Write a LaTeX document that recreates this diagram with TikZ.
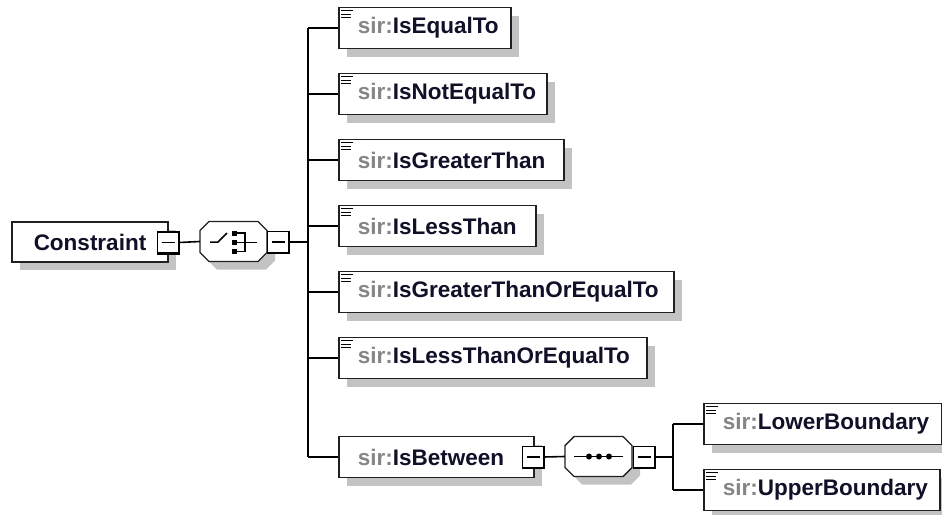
\documentclass[tikz,border=0pt]{standalone}
\usepackage{fontspec}
\setmainfont{Liberation Sans}
\usepackage{tikz}
\usetikzlibrary{shadows}
\definecolor{nsgrey}{HTML}{858585}
\definecolor{namecol}{HTML}{101028}
\definecolor{shadowgrey}{HTML}{C3C3C3}
\definecolor{framecol}{HTML}{202020}
\newcommand{\sir}{\textcolor{nsgrey}{sir:}}

\begin{document}
\begin{tikzpicture}[x=1pt, y=-1pt,
        font=\fontsize{22.5}{26}\selectfont\bfseries,
        % Define a flat grey shadow for the boxes
        boxshadow/.style={general shadow={fill=shadowgrey, shadow xshift=8pt, shadow yshift=-8pt}},
        elem/.style={draw=framecol, line width=1.6pt, fill=white, boxshadow, anchor=west,
            minimum height=41pt, inner xsep=19pt, inner ysep=0pt, align=left, text=namecol},
        root/.style={draw=framecol, line width=1.3pt, fill=white, boxshadow,
            minimum width=156pt, minimum height=40pt, text=namecol},
        compositor/.style={minimum width=67pt, minimum height=40pt, inner sep=0pt},
        minusbox/.style={draw=black, line width=1.2pt, fill=white, minimum size=21pt, inner sep=0pt,
            path picture={\draw[line width=1.2pt] ([xshift=4pt]path picture bounding box.west)
                -- ([xshift=-4pt]path picture bounding box.east);}},
        link/.style={line width=1.6pt, draw=black}]

        \useasboundingbox (0,0) rectangle (942,514);

        % 1. The root element and its choice compositor
        \node[root] (root) at (90,242) {Constraint};
        \node[compositor] (chc) at (233.5,241.5) {};

        % 2. The seven choices
        \node[elem, minimum width=172pt, text width=134pt] (eq) at (338,28) {\sir IsEqualTo};
        \node[elem, minimum width=208pt, text width=170pt] (neq) at (338,94) {\sir IsNotEqualTo};
        \node[elem, minimum width=225pt, text width=187pt] (gt) at (338,160) {\sir IsGreaterThan};
        \node[elem, minimum width=197pt, text width=159pt] (lt) at (338,226) {\sir IsLessThan};
        \node[elem, minimum width=335pt, text width=297pt] (ge) at (338,292) {\sir IsGreaterThanOrEqualTo};
        \node[elem, minimum width=308pt, text width=270pt] (le) at (338,358) {\sir IsLessThanOrEqualTo};
        \node[elem, minimum width=195pt, text width=157pt] (btw) at (338,457) {\sir IsBetween};

        % 3. The sequence inside IsBetween
        \node[compositor] (seq) at (598.5,456.5) {};
        \node[elem, minimum width=238pt, text width=200pt] (lo) at (703,424) {\sir LowerBoundary};
        \node[elem, minimum width=236pt, text width=198pt] (up) at (703,490) {\sir UpperBoundary};

        % 4. Octagons of the compositors, with their shadows
        \foreach \c in {chc, seq} {
            \begin{scope}[shift={(\c.center)}]
                \fill[shadowgrey] (-16.5,-12) -- (32.5,-12) -- (41.5,-3) -- (41.5,19) -- (32.5,28)
                    -- (-16.5,28) -- (-25.5,19) -- (-25.5,-3) -- cycle;
                \filldraw[fill=white, draw=framecol, line width=1.4pt]
                    (-24.5,-20) -- (24.5,-20) -- (33.5,-11) -- (33.5,11) -- (24.5,20)
                    -- (-24.5,20) -- (-33.5,11) -- (-33.5,-11) -- cycle;
            \end{scope}
        }

        % 5. Minus boxes, with thick lower and right edges
        \node[minusbox] (cmin) at (168,242.5) {};
        \node[minusbox] (chmin) at (278,242) {};
        \node[minusbox] (bmin) at (533,457) {};
        \node[minusbox] (sqmin) at (644,457) {};
        \foreach \m in {cmin, chmin, bmin, sqmin}
            \draw[line width=2.6pt] (\m.north east) -- (\m.south east) -- (\m.south west);

        % 6. Small "simple content" marks in the corners
        \foreach \n in {eq, neq, gt, lt, ge, le, lo, up} {
            \draw[line width=1.3pt] ([shift={(3pt,-4pt)}]\n.north west) -- ++(12,0);
            \draw[line width=1.3pt] ([shift={(3pt,-7.5pt)}]\n.north west) -- ++(10,0);
            \draw[line width=1.3pt] ([shift={(3pt,-11pt)}]\n.north west) -- ++(10,0);
        }

        % 7. Choice symbol
        \begin{scope}[shift={(chc.center)}, line width=1.5pt]
            \draw (-23.5,0.5) -- (-15.5,0.5) -- (-6.5,-8.5);
            \foreach \dy in {-8.5,1,10}
                \fill (0.5,\dy) +(-2.5,-2.5) rectangle +(2.5,2.5);
            \draw (3.5,-8.5) -- (11.5,-8.5) -- (11.5,10) -- (3.5,10);
            \draw (3.5,1) -- (23.5,1);
        \end{scope}

        % 8. Sequence symbol
        \begin{scope}[shift={(seq.center)}, line width=1.5pt]
            \draw (-24.5,0) -- (24.5,0);
            \foreach \dx in {-9.5,0.5,10.5}
                \fill (\dx,0) circle (3);
        \end{scope}

        % 9. Connectors
        \coordinate (fork) at (308,242);
        \coordinate (fork2) at (673,457);
        \draw[link] (cmin.east) -- (chc.west);
        \draw[link] (chmin.east) -- (fork);
        \draw[link] (fork |- eq.west) -- (fork |- btw.west);
        \foreach \n in {eq, neq, gt, lt, ge, le, btw}
            \draw[link] (fork |- \n.west) -- (\n.west);
        \draw[link] (bmin.east) -- (seq.west);
        \draw[link] (sqmin.east) -- (fork2);
        \draw[link] (fork2 |- lo.west) -- (fork2 |- up.west);
        \foreach \n in {lo, up}
            \draw[link] (fork2 |- \n.west) -- (\n.west);

    \end{tikzpicture}
\end{document}
